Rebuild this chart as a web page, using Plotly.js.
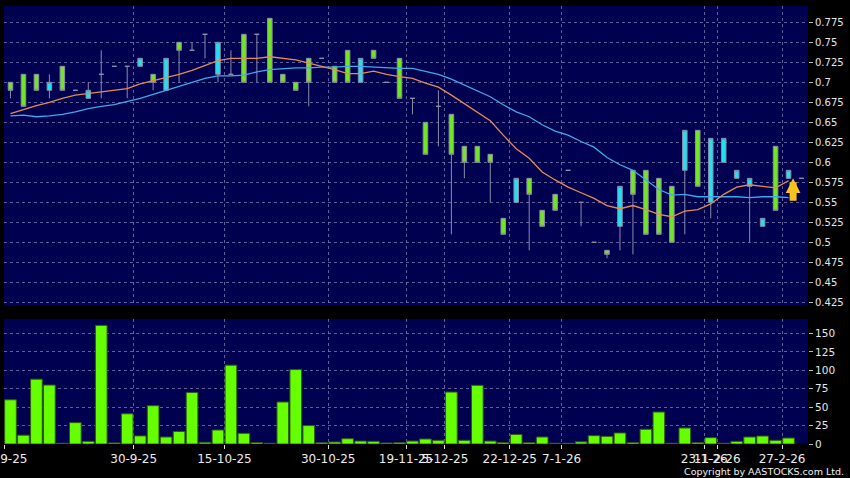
<!DOCTYPE html>
<html>
<head>
<meta charset="utf-8">
<script src="https://cdn.plot.ly/plotly-3.0.1.min.js"></script>
<style>
  html, body { margin: 0; padding: 0; background: #000; }
  #chart { width: 850px; height: 478px; }
</style>
</head>
<body>
<div id="chart"></div>
<script>
// ---- price data (one entry per trading session, oldest first) ----
const openP  = [0.70,0.71,0.71,0.69,0.72,0.69,0.68,0.71,0.72,0.72,0.72,0.71,0.69,0.75,0.74,0.76,0.71,0.71,0.76,0.76,
                0.78,0.71,0.70,0.73,0.73,0.72,0.74,0.70,0.74,0.70,0.73,0.68,0.65,0.67,0.66,0.62,0.62,0.61,0.53,0.55,
                0.58,0.54,0.56,0.59,0.55,0.50,0.49,0.52,0.59,0.59,0.58,0.57,0.59,0.64,0.55,0.60,0.58,0.57,0.52,0.62,
                0.58,0.58];
const highP  = [0.70,0.71,0.71,0.71,0.72,0.69,0.70,0.74,0.72,0.72,0.73,0.71,0.73,0.75,0.75,0.76,0.75,0.74,0.76,0.76,
                0.78,0.71,0.70,0.73,0.73,0.72,0.74,0.73,0.74,0.70,0.73,0.68,0.65,0.69,0.66,0.62,0.62,0.61,0.53,0.58,
                0.58,0.54,0.56,0.59,0.55,0.50,0.49,0.57,0.59,0.59,0.58,0.57,0.64,0.64,0.63,0.63,0.59,0.58,0.53,0.62,
                0.59,0.58];
const lowP   = [0.68,0.67,0.69,0.68,0.69,0.69,0.68,0.68,0.72,0.68,0.72,0.69,0.69,0.70,0.74,0.73,0.70,0.71,0.70,0.70,
                0.70,0.70,0.69,0.67,0.73,0.70,0.70,0.70,0.73,0.70,0.68,0.66,0.61,0.62,0.51,0.58,0.60,0.55,0.51,0.55,
                0.49,0.52,0.54,0.59,0.52,0.50,0.48,0.49,0.485,0.51,0.51,0.50,0.51,0.57,0.53,0.60,0.58,0.50,0.52,0.54,
                0.58,0.58];
const closeP = [0.69,0.67,0.69,0.70,0.69,0.69,0.69,0.71,0.72,0.72,0.73,0.70,0.73,0.74,0.74,0.76,0.75,0.71,0.70,0.76,
                0.70,0.70,0.69,0.70,0.73,0.70,0.70,0.73,0.73,0.70,0.68,0.68,0.61,0.67,0.61,0.60,0.60,0.60,0.51,0.58,
                0.56,0.52,0.54,0.59,0.55,0.50,0.485,0.57,0.56,0.51,0.51,0.50,0.64,0.57,0.63,0.63,0.59,0.58,0.53,0.54,
                0.59,0.58];

// moving averages
const ma10 = [0.661,0.666,0.671,0.675,0.680,0.684,0.686,0.688,0.690,0.692,0.698,0.702,0.706,0.710,0.715,0.721,0.727,0.730,0.730,0.730,
              0.732,0.730,0.728,0.724,0.720,0.716,0.711,0.711,0.714,0.710,0.707,0.705,0.699,0.694,0.684,0.673,0.663,0.652,0.634,0.617,
              0.605,0.588,0.578,0.569,0.562,0.555,0.546,0.542,0.546,0.541,0.535,0.532,0.539,0.541,0.548,0.560,0.569,0.572,0.570,0.568,
              0.577];
const ma20 = [0.658,0.659,0.657,0.658,0.660,0.663,0.667,0.670,0.672,0.676,0.680,0.685,0.690,0.695,0.700,0.705,0.708,0.708,0.709,0.713,
              0.716,0.717,0.718,0.718,0.719,0.719,0.720,0.720,0.719,0.718,0.7175,0.7175,0.714,0.710,0.704,0.697,0.690,0.682,0.672,0.663,
              0.657,0.647,0.639,0.634,0.626,0.619,0.606,0.597,0.590,0.578,0.566,0.559,0.560,0.557,0.557,0.557,0.557,0.556,0.557,0.557,
              0.556];

// volume (thousands) per session
const volume = [60,12,88,80,1,29,3.6,161,1.5,41,11,52,9.5,17,70,2.3,19,107,14.5,2,
                1,57,101,25,1.8,2.7,7.2,4,3.6,1.4,1.8,4,6.8,5,70.5,5,79.6,4,2,13,
                2,9.5,1,1,3,11.3,10.4,15,2,20,43.4,1,21.7,2,8.6,1,3.6,9.5,10.8,5,
                8.1];

// x-axis labels: session index where each label's period starts
const tickSessions = [0,10,17,25,31,34,39,43,54,55,60];
const tickLabels   = ['16-9-25','30-9-25','15-10-25','30-10-25','19-11-25','5-12-25','22-12-25','7-1-26','23-1-26','11-2-26','27-2-26'];

const priceTicks = [0.425,0.45,0.475,0.5,0.525,0.55,0.575,0.6,0.625,0.65,0.675,0.7,0.725,0.75,0.775];
const priceTickText = ['0.425','0.45','0.475','0.5','0.525','0.55','0.575','0.6','0.625','0.65','0.675','0.7','0.725','0.75','0.775'];
const volTicks = [0,25,50,75,100,125,150];

// ---------------------------------------------------------------
const sessions = openP.map((_, i) => i);
const tickPos = tickSessions.map(s => s - 0.5);

const gridCol = 'rgba(125,125,180,0.75)';
const labelFont = {family: 'DejaVu Sans, sans-serif', size: 10, color: '#e6e6e6'};

const traces = [
  {
    type: 'candlestick', x: sessions, open: openP, high: highP, low: lowP, close: closeP,
    xaxis: 'x', yaxis: 'y',
    increasing: {fillcolor: '#22e0f2', line: {color: '#8c8ca6', width: 1}},
    decreasing: {fillcolor: '#72e524', line: {color: '#8c8ca6', width: 1}},
    whiskerwidth: 0, hoverinfo: 'skip', showlegend: false
  },
  {
    type: 'scatter', mode: 'lines', x: sessions.slice(0, ma20.length), y: ma20,
    xaxis: 'x', yaxis: 'y', line: {color: '#3fa9ea', width: 1.3}, hoverinfo: 'skip', showlegend: false
  },
  {
    type: 'scatter', mode: 'lines', x: sessions.slice(0, ma10.length), y: ma10,
    xaxis: 'x', yaxis: 'y', line: {color: '#e58a55', width: 1.3}, hoverinfo: 'skip', showlegend: false
  },
  {
    type: 'bar', x: sessions.slice(0, volume.length), y: volume,
    xaxis: 'x2', yaxis: 'y2',
    marker: {color: '#66ff00', line: {color: '#2f5a10', width: 1}},
    hoverinfo: 'skip', showlegend: false
  }
];

const lastMa = ma10.length - 1;

const layout = {
  width: 850, height: 478,
  margin: {l: 4, r: 42, t: 6, b: 34},
  paper_bgcolor: '#000000',
  plot_bgcolor: '#000050',
  showlegend: false,
  bargap: 0.1,
  boxgap: 0.5,
  xaxis: {
    anchor: 'y', domain: [0, 1], range: [-0.5, 61.5],
    rangeslider: {visible: false},
    tickmode: 'array', tickvals: tickPos, ticktext: tickLabels,
    showticklabels: false, ticks: '',
    showgrid: true, gridcolor: gridCol, griddash: '3px,3px', gridwidth: 1,
    zeroline: false, showline: false
  },
  yaxis: {
    domain: [0.315, 1], range: [0.4204, 0.7954], side: 'right',
    tickmode: 'array', tickvals: priceTicks, ticktext: priceTickText,
    ticks: 'outside', ticklen: 4, tickcolor: '#bbbbbb', tickwidth: 1,
    tickfont: labelFont,
    showgrid: true, gridcolor: gridCol, griddash: '3px,3px', gridwidth: 1,
    zeroline: false, showline: false
  },
  xaxis2: {
    anchor: 'y2', domain: [0, 1], range: [-0.5, 61.5], matches: 'x',
    tickmode: 'array', tickvals: tickPos, ticktext: tickLabels, tickangle: 0,
    ticklabeloverflow: 'allow',
    ticks: 'outside', ticklen: 4, tickcolor: '#dddddd', tickwidth: 1,
    tickfont: {family: 'DejaVu Sans, sans-serif', size: 12, color: '#ececec'},
    showgrid: true, gridcolor: gridCol, griddash: '3px,3px', gridwidth: 1,
    zeroline: false, showline: false
  },
  yaxis2: {
    domain: [0, 0.285], range: [0, 169.4], side: 'right',
    tickmode: 'array', tickvals: volTicks,
    ticks: 'outside', ticklen: 4, tickcolor: '#bbbbbb', tickwidth: 1,
    tickfont: {family: 'DejaVu Sans, sans-serif', size: 10.5, color: '#e6e6e6'},
    showgrid: true, gridcolor: gridCol, griddash: '3px,3px', gridwidth: 1,
    zeroline: false, showline: false
  },
  annotations: [
    {
      xref: 'x', yref: 'y', x: sessions[lastMa] + 0.35, y: ma10[lastMa] + 0.003,
      text: '', showarrow: true, arrowhead: 2, arrowsize: 0.42, arrowwidth: 7,
      arrowcolor: '#f6c21c', ax: 0, ay: 24, standoff: 0
    },
    {
      xref: 'paper', yref: 'paper', x: 1.047, y: -0.062, xanchor: 'right', yanchor: 'middle',
      text: 'Copyright by AASTOCKS.com Ltd.', showarrow: false,
      font: {family: 'DejaVu Sans, sans-serif', size: 9.5, color: '#f0f0f0'}
    }
  ]
};

Plotly.newPlot('chart', traces, layout, {staticPlot: true, displayModeBar: false});
</script>
</body>
</html>
